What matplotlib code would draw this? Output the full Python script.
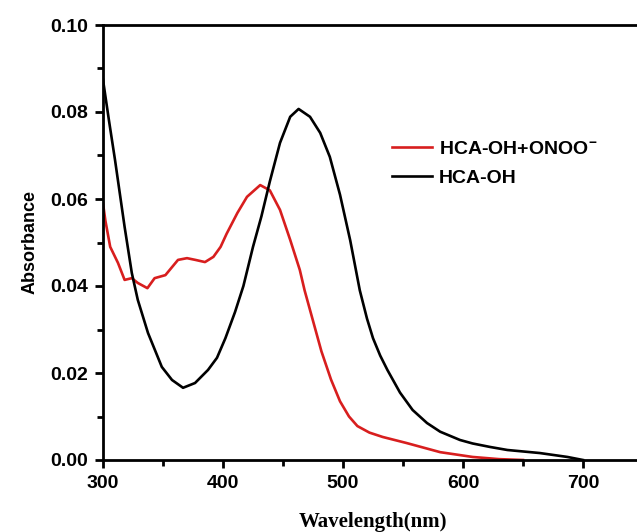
import matplotlib
matplotlib.use("Agg")
import matplotlib.pyplot as plt
import numpy as np
from matplotlib.ticker import MultipleLocator, FormatStrFormatter

plt.rcParams['font.family'] = ['Liberation Sans', 'DejaVu Sans']
plt.rcParams['mathtext.fontset'] = 'custom'
plt.rcParams['mathtext.rm'] = 'Liberation Sans:bold'
plt.rcParams['mathtext.bf'] = 'Liberation Sans:bold'
plt.rcParams['mathtext.default'] = 'bf'

# HCA-OH (black)
wl_black = [300, 305, 310, 318, 324, 329, 337.5, 349, 357.5, 366.7, 376.7, 387.5, 395,
            402, 410, 417, 425, 432, 439, 447.5, 456, 463, 472.5, 481, 489, 497.5, 506,
            514, 520, 525, 531, 537, 547.5, 558, 570, 581, 597.5, 608, 622.5, 637, 664,
            687, 700]
abs_black = [0.0874, 0.078, 0.069, 0.0536, 0.043, 0.0368, 0.0292, 0.0214, 0.0184, 0.0166,
             0.0177, 0.0207, 0.0235, 0.028, 0.034, 0.040, 0.049, 0.056, 0.064, 0.0729,
             0.0789, 0.0807, 0.0789, 0.0752, 0.0697, 0.061, 0.0505, 0.039, 0.0325, 0.028,
             0.024, 0.0207, 0.0155, 0.0115, 0.0085, 0.0065, 0.0046, 0.0038, 0.003, 0.0023,
             0.0016, 0.0007, 0.0]

# HCA-OH + ONOO- (red)
wl_red = [300, 302, 306, 312.5, 318, 324, 329, 337, 343, 352, 362.5, 370, 377, 385, 392,
          398, 403, 412, 420, 431, 439, 447.5, 456, 464, 468, 475, 482, 490, 497.5, 505,
          512, 522, 533, 553, 581, 608, 630, 650]
abs_red = [0.059, 0.055, 0.049, 0.0453, 0.0414, 0.0418, 0.0407, 0.0395, 0.0418, 0.0425,
           0.046, 0.0464, 0.046, 0.0455, 0.0467, 0.049, 0.052, 0.0568, 0.0605, 0.0632,
           0.062, 0.0575, 0.0506, 0.0437, 0.039, 0.032, 0.025, 0.0185, 0.0135, 0.010,
           0.0078, 0.0063, 0.0053, 0.0039, 0.0018, 0.0007, 0.0002, 0.0]

x_major = [300, 400, 500, 600, 700]

W, H = 637, 532
fig = plt.figure(figsize=(W / 100, H / 100), dpi=100)
ax = fig.add_axes([103 / W, (H - 460) / H, 540 / W, 435 / H])

ax.plot(wl_black, abs_black, color='black', lw=1.9, label='HCA-OH', zorder=3)
ax.plot(wl_red, abs_red, color='#d81e1e', lw=1.9, label=r'HCA-OH+ONOO$^{-}$', zorder=2)

ax.set_xlim(300, 750)
ax.set_ylim(0, 0.10)
ax.set_xticks(x_major)
ax.xaxis.set_minor_locator(MultipleLocator(50))
ax.yaxis.set_major_locator(MultipleLocator(0.02))
ax.yaxis.set_minor_locator(MultipleLocator(0.01))
ax.yaxis.set_major_formatter(FormatStrFormatter('%.2f'))

for s in ax.spines.values():
    s.set_linewidth(2.0)
ax.tick_params(which='major', direction='out', length=6, width=2, labelsize=14, pad=5)
ax.tick_params(which='minor', direction='out', length=4, width=2)
ax.tick_params(top=False, right=False, which='both')
for lab in ax.get_xticklabels() + ax.get_yticklabels():
    lab.set_fontweight('bold')

ax.set_xlabel('Wavelength(nm)', fontsize=15, fontweight='bold',
              family=['Liberation Serif'], labelpad=14)
ax.set_ylabel('Absorbance', fontsize=13, fontweight='bold', labelpad=8)

handles, labels = ax.get_legend_handles_labels()
leg = ax.legend(handles[::-1], labels[::-1], frameon=False, loc='upper left',
                bbox_to_anchor=(392 / W, 1 - 140 / H), bbox_transform=fig.transFigure,
                borderpad=0, borderaxespad=0, handlelength=2.05, handletextpad=0.35,
                labelspacing=0.6, prop={'weight': 'bold', 'size': 14})

fig.savefig('out.png', dpi=100)
